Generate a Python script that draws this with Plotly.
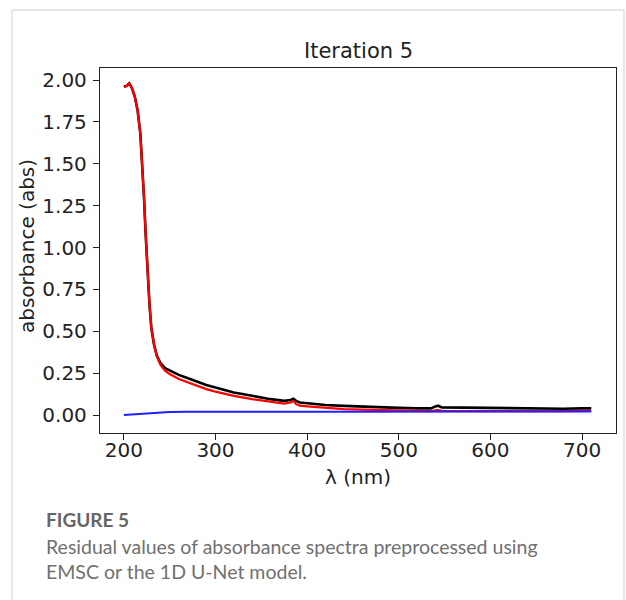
import plotly.graph_objects as go

# wavelengths (nm) for EMSC / U-Net spectra
wavelength = [200, 203, 206, 209, 212, 215, 218, 220, 222, 224, 226, 228, 230, 233, 236,
              240, 245, 250, 260, 270, 280, 290, 300, 320, 340, 360, 375, 382, 385, 388,
              392, 400, 420, 440, 460, 480, 500, 520, 535, 540, 543, 547, 560, 580, 600,
              620, 640, 660, 680, 700, 710]

black_vals = [1.96, 1.965, 1.98, 1.95, 1.90, 1.82, 1.68, 1.52, 1.30, 1.06, 0.84, 0.66, 0.52, 0.42, 0.355,
              0.31, 0.28, 0.265, 0.24, 0.22, 0.20, 0.18, 0.165, 0.135, 0.115, 0.095, 0.085, 0.09, 0.098, 0.085,
              0.075, 0.07, 0.06, 0.055, 0.05, 0.046, 0.043, 0.040, 0.040, 0.052, 0.056, 0.046, 0.045, 0.042, 0.040,
              0.040, 0.038, 0.038, 0.038, 0.040, 0.040]

red_vals = [1.96, 1.965, 1.98, 1.95, 1.90, 1.82, 1.68, 1.52, 1.30, 1.06, 0.84, 0.66, 0.52, 0.42, 0.35,
            0.30, 0.265, 0.245, 0.215, 0.195, 0.175, 0.155, 0.14, 0.115, 0.095, 0.078, 0.068, 0.075, 0.085, 0.065,
            0.056, 0.052, 0.042, 0.036, 0.032, 0.029, 0.027, 0.025, 0.024, 0.028, 0.030, 0.025, 0.024, 0.023, 0.024,
            0.024, 0.023, 0.024, 0.024, 0.025, 0.025]

wavelength_blue = [200, 210, 220, 230, 240, 250, 270, 300, 350, 400, 450, 500, 550, 600, 650, 700, 710]
blue_vals = [0.0, 0.003, 0.008, 0.013, 0.016, 0.018, 0.02, 0.021, 0.021, 0.02, 0.02, 0.02, 0.02, 0.02, 0.02, 0.021, 0.021]

x_ticks = [200, 300, 400, 500, 600, 700]
y_ticks = [0.0, 0.25, 0.5, 0.75, 1.0, 1.25, 1.5, 1.75, 2.0]

W, H = 626, 600
L, R, T, B = 100, 616, 68, 433

def px(xp):
    return (xp - L) / (R - L)

def py(yp):
    return (B - yp) / (B - T)

fig = go.Figure()
fig.add_trace(go.Scatter(x=wavelength, y=black_vals, mode="lines",
                         line=dict(color="black", width=2.6), showlegend=False))
fig.add_trace(go.Scatter(x=wavelength, y=red_vals, mode="lines",
                         line=dict(color="red", width=2.2), showlegend=False))
fig.add_trace(go.Scatter(x=wavelength_blue, y=blue_vals, mode="lines",
                         line=dict(color="#2020ff", width=2.0), showlegend=False))

tickfont = dict(family="DejaVu Sans", size=20, color="#222")
fig.update_xaxes(range=[174, 737], tickvals=x_ticks, ticktext=[str(v) for v in x_ticks],
                 showgrid=False, zeroline=False, showline=True, linecolor="#222", linewidth=1.3,
                 mirror=True, ticks="outside", ticklen=6, tickcolor="#222", tickfont=tickfont,
                 ticklabelstandoff=-7)
fig.update_yaxes(range=[-0.107, 2.072], tickvals=y_ticks, ticktext=[f"{v:.2f}" for v in y_ticks],
                 showgrid=False, zeroline=False, showline=True, linecolor="#222", linewidth=1.3,
                 mirror=True, ticks="outside", ticklen=6, tickcolor="#222", tickfont=tickfont,
                 ticklabelstandoff=2)

annos = [
    dict(text="Iteration 5", x=px(358), y=py(51), xanchor="center", yanchor="middle",
         font=dict(family="DejaVu Sans", size=21, color="#222")),
    dict(text="λ (nm)", x=px(358), y=py(477), xanchor="center", yanchor="middle",
         font=dict(family="DejaVu Sans", size=20, color="#222")),
    dict(text="absorbance (abs)", x=px(27), y=py(246), xanchor="center", yanchor="middle",
         textangle=-90, font=dict(family="DejaVu Sans", size=20, color="#222")),
    dict(text="<b>FIGURE 5</b>", x=px(44), y=py(519), xanchor="left", yanchor="middle",
         font=dict(family="Lato", size=19, color="#666")),
    dict(text="Residual values of absorbance spectra preprocessed using", x=px(44), y=py(546),
         xanchor="left", yanchor="middle", font=dict(family="Lato", size=19.5, color="#707070")),
    dict(text="EMSC or the 1D U-Net model.", x=px(44), y=py(571),
         xanchor="left", yanchor="middle", font=dict(family="Lato", size=19.5, color="#707070")),
]
for a in annos:
    a.update(xref="paper", yref="paper", showarrow=False)

fig.update_layout(
    width=W, height=H,
    margin=dict(l=L, r=W - R, t=T, b=H - B),
    paper_bgcolor="white", plot_bgcolor="white",
    annotations=annos,
    shapes=[dict(type="rect", xref="paper", yref="paper",
                 x0=px(12), x1=px(624), y0=py(640), y1=py(10),
                 line=dict(color="#cfcfcf", width=1), layer="below")],
)

fig.write_html("out.html")
